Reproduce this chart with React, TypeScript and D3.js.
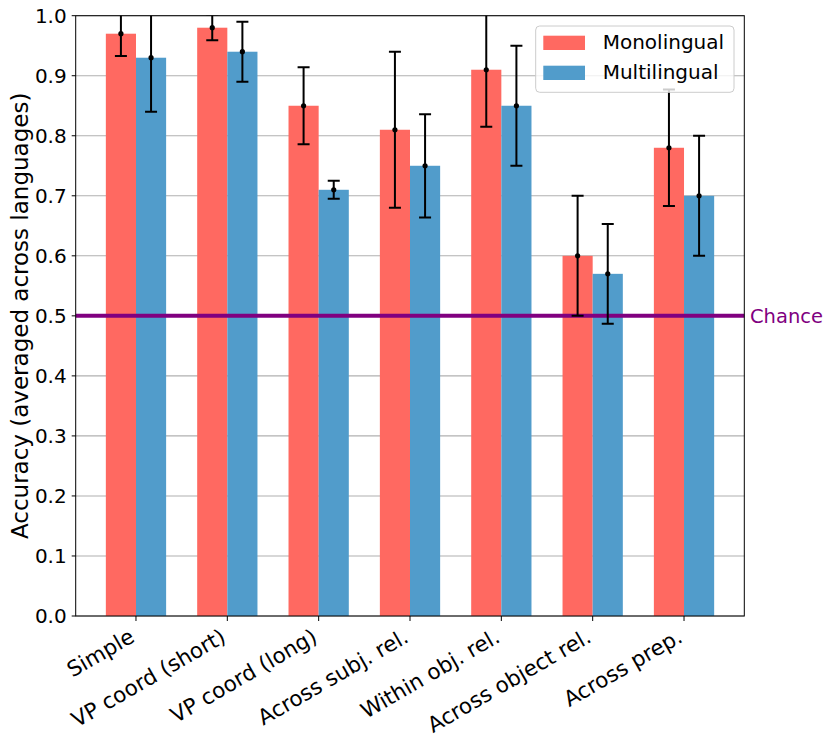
import React from "react";
import * as d3 from "d3";

const categories = [
  "Simple",
  "VP coord (short)",
  "VP coord (long)",
  "Across subj. rel.",
  "Within obj. rel.",
  "Across object rel.",
  "Across prep.",
];
const monoValues = [0.97, 0.98, 0.85, 0.81, 0.91, 0.6, 0.78];
const monoErrors = [0.037, 0.021, 0.064, 0.13, 0.095, 0.1, 0.097];
const multiValues = [0.93, 0.94, 0.71, 0.75, 0.85, 0.57, 0.7];
const multiErrors = [0.09, 0.05, 0.015, 0.086, 0.1, 0.083, 0.1];
const yTicks = [0, 0.1, 0.2, 0.3, 0.4, 0.5, 0.6, 0.7, 0.8, 0.9, 1.0];
const seriesNames = ["Monolingual", "Multilingual"];
const chanceLevel = 0.5;

const W = 831;
const H = 739;
const FONT = "DejaVu Sans, sans-serif";
const RED = "#ff6961";
const BLUE = "#519ccb";

export default function App() {
  const x = d3.scaleLinear().domain([-0.66, 6.66]).range([75.7, 744.3]);
  const y = d3.scaleLinear().domain([0, 1]).range([616, 15.7]);
  const bw = x(0.33) - x(0);
  const [x0, x1] = x.range();
  const [yb, yt] = y.range();

  const series = [
    { name: seriesNames[0], values: monoValues, errors: monoErrors, color: RED, off: -0.165 },
    { name: seriesNames[1], values: multiValues, errors: multiErrors, color: BLUE, off: 0.165 },
  ];

  return (
    <svg
      width={W}
      height={H}
      style={{ position: "absolute", left: 0, top: 0, background: "#fff" }}
      fontFamily={FONT}
    >
      <defs>
        <clipPath id="plotclip">
          <rect x={x0} y={yt} width={x1 - x0} height={yb - yt} />
        </clipPath>
      </defs>
      {yTicks.map((t) => (
        <line key={"g" + t} x1={x0} x2={x1} y1={y(t)} y2={y(t)} stroke="#b0b0b0" strokeWidth={1.1} />
      ))}
      {series.map((s) =>
        s.values.map((v, i) => (
          <rect
            key={s.name + i}
            x={x(i + s.off) - bw / 2}
            y={y(v)}
            width={bw}
            height={y(0) - y(v)}
            fill={s.color}
          />
        ))
      )}
      <line x1={x0} x2={x1} y1={y(chanceLevel)} y2={y(chanceLevel)} stroke="#800080" strokeWidth={4} />
      <g clipPath="url(#plotclip)">
        {series.map((s) =>
          s.values.map((v, i) => {
            const cx = x(i + s.off);
            const top = y(v + s.errors[i]);
            const bot = y(v - s.errors[i]);
            return (
              <g key={"e" + s.name + i} stroke="#000" strokeWidth={2}>
                <line x1={cx} x2={cx} y1={top} y2={bot} />
                <line x1={cx - 6} x2={cx + 6} y1={top} y2={top} />
                <line x1={cx - 6} x2={cx + 6} y1={bot} y2={bot} />
                <circle cx={cx} cy={y(v)} r={2.6} fill="#000" stroke="none" />
              </g>
            );
          })
        )}
      </g>
      <rect x={x0} y={yt} width={x1 - x0} height={yb - yt} fill="none" stroke="#000" strokeWidth={1} />
      {yTicks.map((t) => (
        <g key={"yt" + t}>
          <line x1={x0 - 4} x2={x0} y1={y(t)} y2={y(t)} stroke="#000" strokeWidth={1} />
          <text x={x0 - 9} y={y(t)} dy="0.36em" textAnchor="end" fontSize={20} fill="#000">
            {t.toFixed(1)}
          </text>
        </g>
      ))}
      {categories.map((c, i) => (
        <g key={"xt" + i}>
          <line x1={x(i)} x2={x(i)} y1={yb} y2={yb + 5} stroke="#000" strokeWidth={1} />
          <text
            transform={`translate(${x(i)},${yb + 25}) rotate(-30)`}
            textAnchor="end"
            fontSize={21.5}
            fill="#000"
          >
            {c}
          </text>
        </g>
      ))}
      <text
        transform={`translate(28,${(yt + yb) / 2}) rotate(-90)`}
        textAnchor="middle"
        fontSize={23}
        fill="#000"
      >
        Accuracy (averaged across languages)
      </text>
      <text x={750} y={y(chanceLevel)} dy="0.36em" fontSize={19.5} fill="#800080">
        Chance
      </text>
      <g>
        <rect x={535.7} y={26} width={198.3} height={66.3} rx={4} fill="#fff" fillOpacity={0.8} stroke="#ccc" strokeWidth={1} />
        {series.map((s, k) => (
          <g key={"lg" + k}>
            <rect x={543.3} y={35.7 + k * 30} width={41.7} height={14.3} fill={s.color} />
            <text x={602.7} y={49.3 + k * 30} fontSize={20} fill="#000">
              {s.name}
            </text>
          </g>
        ))}
      </g>
    </svg>
  );
}
